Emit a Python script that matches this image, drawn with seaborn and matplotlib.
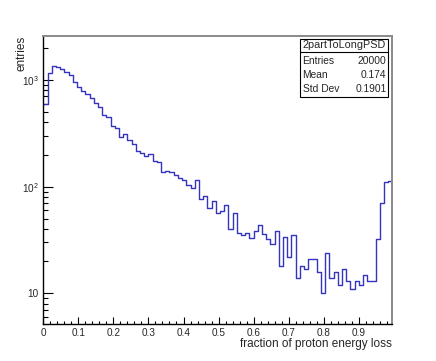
import numpy as np
import pandas as pd
import matplotlib
matplotlib.use("Agg")
import matplotlib.pyplot as plt
import seaborn as sns
from matplotlib.ticker import FixedLocator, FuncFormatter, MultipleLocator, LogLocator, NullFormatter
from matplotlib.lines import Line2D
from matplotlib.patches import Rectangle

# ---------------- data ----------------
bin_width = 0.012
counts = [592, 1156, 1362, 1333, 1268, 1197, 1114, 964, 854, 789,
          734, 683, 605, 555, 470, 450, 370, 353, 292, 310,
          273, 250, 217, 208, 195, 204, 174, 169, 136, 140,
          137, 128, 121, 115, 104, 97, 115, 77, 81, 63,
          74, 57, 59, 68, 40, 57, 37, 35, 37, 33,
          38, 44, 36, 32, 29, 38, 18, 34, 22, 35,
          14, 18, 17, 21, 21, 16, 10, 24, 14, 16,
          12, 17, 13, 11, 13, 12, 15, 13, 13, 32,
          70, 111, 112]
hist_name = "2partToLongPSD"
stat_names = ["Entries", "Mean", "Std Dev"]
stat_values = ["20000", "0.174", "0.1901"]
x_title = "fraction of proton energy loss"
y_title = "entries"

edges = [i * bin_width for i in range(len(counts) + 1)]
centers = [(i + 0.5) * bin_width for i in range(len(counts))]
df = pd.DataFrame({"x": centers, "w": counts})

# ---------------- style ----------------
sns.set_style("white")
plt.rcParams["font.family"] = ["Liberation Sans", "DejaVu Sans"]
plt.rcParams["mathtext.fontset"] = "custom"
plt.rcParams["mathtext.rm"] = "Liberation Sans"
plt.rcParams["mathtext.it"] = "Liberation Sans"
plt.rcParams["mathtext.default"] = "regular"

W, H = 436, 361
fig = plt.figure(figsize=(W / 100, H / 100), dpi=100)
fig.patch.set_facecolor("white")

def fx(x):
    return x / W

def fy(y):
    return 1 - y / H

L, R, T, B = 43.3, 391.7, 35.5, 323.5
ax = fig.add_axes([fx(L), fy(B), (R - L) / W, (B - T) / H])
ax.set_facecolor("white")

sns.histplot(data=df, x="x", weights="w", bins=edges, element="step",
             fill=False, color="#3434c0", linewidth=1.0, ax=ax)
ax.set_yscale("log")
ax.set_xlim(0, 0.994)
ax.set_ylim(5.21, 2612)
ax.set_xlabel("")
ax.set_ylabel("")

# ticks
ax.yaxis.set_major_locator(FixedLocator([10, 100, 1000]))
ax.yaxis.set_minor_locator(LogLocator(base=10, subs=np.arange(2, 10), numticks=20))
ylab = {10: "10", 100: "$10^{2}$", 1000: "$10^{3}$"}
ax.yaxis.set_major_formatter(FuncFormatter(lambda v, p: ylab.get(int(round(v)), "")))
ax.yaxis.set_minor_formatter(NullFormatter())
ax.xaxis.set_major_locator(MultipleLocator(0.1))
ax.xaxis.set_minor_locator(MultipleLocator(0.02))
ax.xaxis.set_major_formatter(FuncFormatter(lambda v, p: "0" if abs(v) < 1e-9 else f"{v:.1f}"))

ax.tick_params(axis="x", which="major", direction="in", length=5, width=0.8,
               labelsize=7.2, pad=3.5, color="black", bottom=True, top=False)
ax.tick_params(axis="x", which="minor", direction="in", length=2.5, width=0.8,
               color="black", bottom=True, top=False)
ax.tick_params(axis="y", which="major", direction="in", length=7.2, width=0.8,
               labelsize=7.2, pad=3.5, color="black", left=True, right=False)
ax.tick_params(axis="y", which="minor", direction="in", length=3.6, width=0.8,
               color="black", left=True, right=False)

for s in ["left", "bottom"]:
    ax.spines[s].set_color("black")
    ax.spines[s].set_linewidth(1.0)
for s in ["top", "right"]:
    ax.spines[s].set_color("#8a8a8a")
    ax.spines[s].set_linewidth(1.4)

# axis titles
fig.text(fx(R), fy(343.8), x_title, ha="right", va="center", fontsize=8.5)
fig.text(fx(21), fy(35.5), y_title, ha="center", va="top", rotation=90, fontsize=8.5)

# stats box
bx0, bx1, by0, by1 = 300.0, 388.3, 39.0, 96.5
fig.add_artist(Rectangle((fx(bx0), fy(by1)), (bx1 - bx0) / W, (by1 - by0) / H,
                         transform=fig.transFigure, facecolor="white",
                         edgecolor="black", lw=0.8, zorder=5))
fig.add_artist(Line2D([fx(bx0), fx(bx1)], [fy(52.0), fy(52.0)], color="black", lw=0.8, zorder=6))
fig.text(fx((bx0 + bx1) / 2), fy(45.5), hist_name, ha="center", va="center",
         fontsize=7.8, zorder=7)
row_y = [60.5, 75.0, 89.0]
for name, val, yy in zip(stat_names, stat_values, row_y):
    fig.text(fx(302.5), fy(yy), name, ha="left", va="center", fontsize=7.4, zorder=7)
    fig.text(fx(386.5), fy(yy), val, ha="right", va="center", fontsize=7.4, zorder=7)

fig.savefig("out.png", dpi=100, facecolor="white")
